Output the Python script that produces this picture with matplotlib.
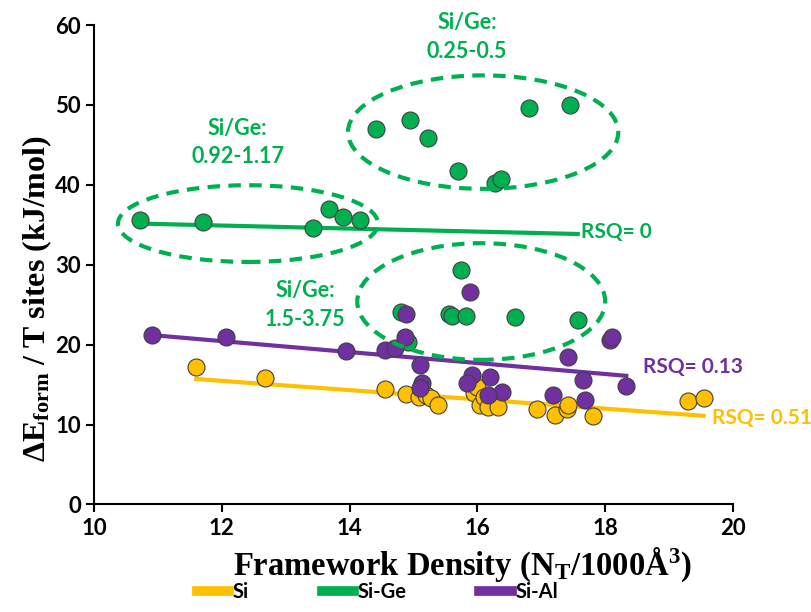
import matplotlib
matplotlib.use('Agg')
import matplotlib.pyplot as plt
from matplotlib.lines import Line2D
from matplotlib.patches import Ellipse

plt.rcParams['font.family'] = ['Lato', 'DejaVu Sans']
plt.rcParams['mathtext.default'] = 'regular'

# ---------- DATA ----------
# Si
si_x = [11.6, 12.68, 14.55, 14.88, 15.09, 15.2, 15.28, 15.39, 15.94, 15.99, 16.04,
        16.1, 16.17, 16.33, 16.93, 17.21, 17.4, 17.42, 17.81, 19.3, 19.54]
si_y = [17.2, 15.8, 14.4, 13.8, 13.5, 13.7, 13.3, 12.4, 13.9, 14.7, 12.4,
        13.5, 12.2, 12.2, 12.0, 11.2, 11.9, 12.4, 11.1, 13.0, 13.3]
# Si-Ge
ge_x = [10.72, 11.71, 13.42, 13.67, 13.9, 14.16, 14.42, 14.95, 15.22, 15.70, 16.28,
        16.37, 16.80, 17.45, 15.74, 14.8, 15.56, 15.6, 15.82, 16.59, 17.58, 14.92]
ge_y = [35.65, 35.35, 34.65, 37.0, 36.0, 35.6, 47.0, 48.1, 45.8, 41.7, 40.2,
        40.7, 49.65, 50.0, 29.4, 24.1, 23.8, 23.6, 23.6, 23.5, 23.1, 20.3]
# Si-Al
al_x = [10.9, 12.07, 13.94, 14.55, 14.71, 14.87, 14.88, 15.1, 15.13, 15.1, 15.88, 15.91,
        15.84, 16.2, 16.38, 16.17, 17.18, 17.42, 17.66, 17.68, 18.08, 18.1, 18.33]
al_y = [21.2, 20.9, 19.2, 19.3, 19.6, 21.0, 23.8, 17.4, 15.2, 14.6, 26.6, 16.2,
        15.2, 16.0, 14.1, 13.7, 13.7, 18.5, 15.6, 13.1, 20.6, 20.9, 14.8]

# trend lines (end points)
si_fit_x = [11.6, 19.54]
si_fit_y = [15.7, 11.1]
ge_fit_x = [10.72, 17.57]
ge_fit_y = [35.15, 33.85]
al_fit_x = [10.9, 18.33]
al_fit_y = [21.2, 16.1]

# Si/Ge groups: (center x, center y, width, height, label, label x, label y)
groups = [
    (12.41, 35.15, 4.07, 9.6, 'Si/Ge:\n0.92-1.17', 12.25, 45.3),
    (16.09, 46.6, 4.23, 14.2, 'Si/Ge:\n0.25-0.5', 15.84, 58.5),
    (16.06, 25.4, 3.88, 14.6, 'Si/Ge:\n1.5-3.75', 13.3, 25.0),
]

yellow = '#FFC000'
green = '#00B050'
purple = '#7030A0'

fig = plt.figure(figsize=(8.12, 6.12), dpi=100)
ax = fig.add_axes([0.1158, 0.1757, 0.7869, 0.7834])

ax.plot(si_fit_x, si_fit_y, color=yellow, lw=3, zorder=2)
ax.plot(ge_fit_x, ge_fit_y, color=green, lw=3, zorder=2)
ax.plot(al_fit_x, al_fit_y, color=purple, lw=3, zorder=2)

mk = dict(s=150, edgecolors='#404040', linewidths=0.8, zorder=3)
ax.scatter(si_x, si_y, color=yellow, **mk)
ax.scatter(ge_x, ge_y, color=green, **mk)
ax.scatter(al_x, al_y, color=purple, **mk)

for cx, cy, w, h, lab, lx, ly in groups:
    ax.add_patch(Ellipse((cx, cy), w, h, fill=False, edgecolor=green, lw=3,
                         linestyle=(0, (3, 2)), zorder=4))
    ax.text(lx, ly, lab, color=green, fontsize=15.5, fontweight='bold',
            ha='center', va='center', linespacing=1.45)

ax.text(17.62, 34.05, 'RSQ= 0', color=green, fontsize=15, fontweight='bold', va='center')
ax.text(18.59, 17.2, 'RSQ= 0.13', color=purple, fontsize=15, fontweight='bold', va='center')
ax.text(19.67, 10.8, 'RSQ= 0.51', color=yellow, fontsize=15, fontweight='bold', va='center')

ax.set_xlim(10, 20)
ax.set_ylim(0, 60)
ax.set_xticks(range(10, 21, 2))
ax.set_yticks(range(0, 61, 10))
ax.spines['top'].set_visible(False)
ax.spines['right'].set_visible(False)
ax.spines['left'].set_linewidth(1.5)
ax.spines['bottom'].set_linewidth(1.5)
ax.tick_params(length=6, width=1.5, labelsize=16)
for lbl in ax.get_xticklabels() + ax.get_yticklabels():
    lbl.set_fontweight('bold')

ax.set_xlabel('Framework Density (N$_T$/1000Å$^3$)', family='Liberation Serif',
              fontweight='bold', fontsize=23.5)
ax.set_ylabel('ΔE$_{form}$ / T sites (kJ/mol)', family='Liberation Serif',
              fontweight='bold', fontsize=23)
ax.xaxis.set_label_coords(0.577, -0.085)
ax.yaxis.set_label_coords(-0.062, 0.43)

handles = [Line2D([], [], color=yellow, lw=7),
           Line2D([], [], color=green, lw=7),
           Line2D([], [], color=purple, lw=7)]
leg = fig.legend(handles, ['Si', 'Si-Ge', 'Si-Al'], loc='center', ncol=3,
                 bbox_to_anchor=(0.465, 0.032), frameon=False, handlelength=1.6,
                 handletextpad=0.2, columnspacing=3.6,
                 prop={'weight': 'bold', 'size': 14.5})

fig.savefig('out.png', dpi=100)
